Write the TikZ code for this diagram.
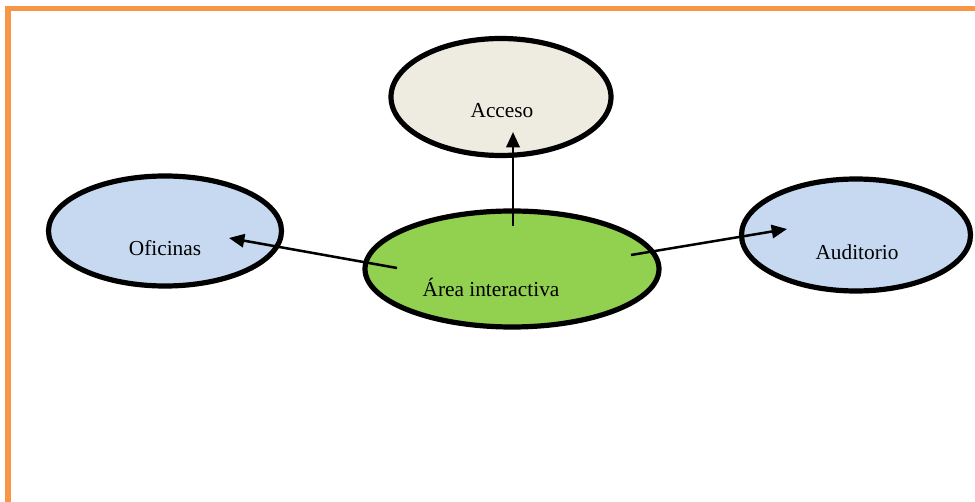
\documentclass[tikz,border=0pt]{standalone}
\usepackage{fontspec}
\setmainfont{Liberation Serif}
\usetikzlibrary{shapes.geometric,arrows.meta}
\definecolor{frameorange}{HTML}{F79646}
\definecolor{beige}{HTML}{EEECE1}
\definecolor{lightblue}{HTML}{C6D9F1}
\definecolor{leafgreen}{HTML}{92D050}
\tikzset{
  oval/.style={ellipse, draw=black, line width=3.9pt, inner sep=0pt},
  lbl/.style={font=\fontsize{16}{18}\selectfont, inner sep=0pt},
  conn/.style={line width=1.9pt, -{Triangle[length=11.5pt,width=10pt]}}
}
\begin{document}
\begin{tikzpicture}[x=0.75pt,y=-0.75pt]
\useasboundingbox (0,0) rectangle (975,502);
\clip (0,0) rectangle (975,502);
\draw[frameorange, line width=4.2pt] (8,8.5) rectangle (1000,560);
% ellipses
\node[oval, fill=beige, minimum width=220*0.75pt, minimum height=117*0.75pt] (acc) at (501,97) {};
\node[oval, fill=lightblue, minimum width=233*0.75pt, minimum height=110*0.75pt] (ofi) at (165,231) {};
\node[oval, fill=leafgreen, minimum width=294*0.75pt, minimum height=116*0.75pt] (area) at (512,269) {};
\node[oval, fill=lightblue, minimum width=229*0.75pt, minimum height=112*0.75pt] (aud) at (856,235) {};
% labels
\node[lbl] (tacc) at (502,111) {Acceso};
\node[lbl] (tofi) at (165,248) {Oficinas};
\node[lbl] (tarea) at (491,287) {Área interactiva};
\node[lbl] (taud) at (857,252) {Auditorio};
% arrow ends
\coordinate (sUp) at (513,226);
\coordinate (eUp) at (513,132);
\coordinate (sL) at (397,268);
\coordinate (eL) at (229,238);
\coordinate (sR) at (631,255);
\coordinate (eR) at (787,229);
\draw[conn] (sUp) -- (eUp);
\draw[conn] (sL) -- (eL);
\draw[conn] (sR) -- (eR);
\end{tikzpicture}
\end{document}
